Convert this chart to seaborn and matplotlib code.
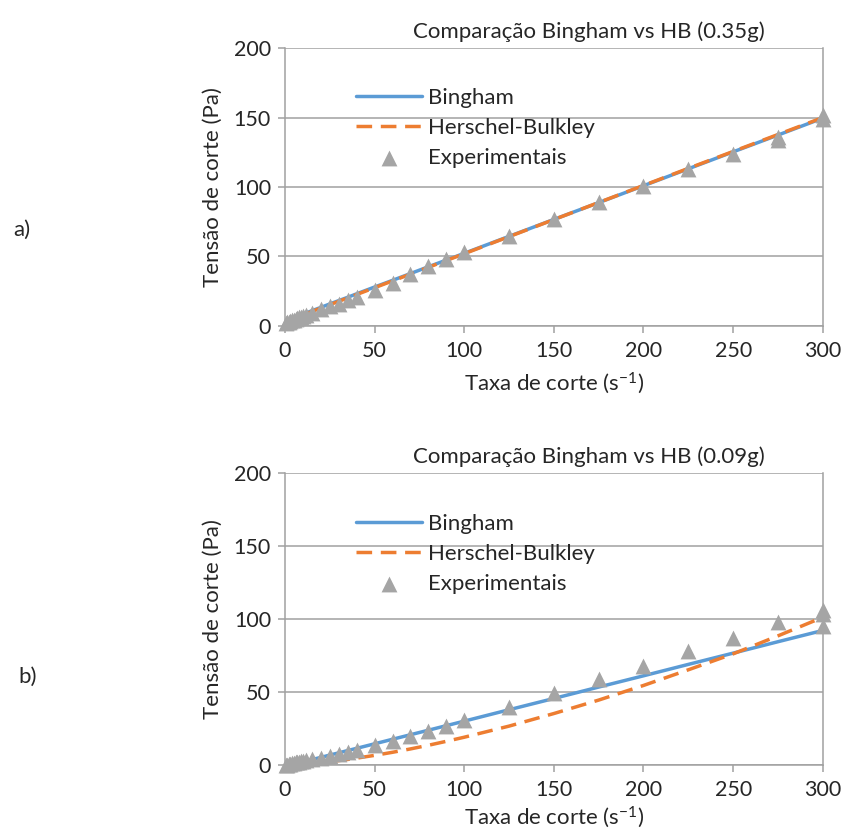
import matplotlib
matplotlib.use("Agg")
import matplotlib.pyplot as plt
import seaborn as sns
import pandas as pd

# shear rate points (s^-1)
shear = [0.5, 1, 2, 3, 4, 5, 6, 7, 8, 9, 10, 12, 15, 20, 25, 30, 35, 40,
         50, 60, 70, 80, 90, 100, 125, 150, 175, 200, 225, 250, 275, 300]

# a) 0.35g
exp_a = [2, 2.5, 3, 3.5, 4, 4.5, 5, 5.5, 6, 6.5, 7, 8, 9.5, 12, 14, 16, 18.5, 21,
         26, 31, 37, 43, 48, 53, 65, 77, 89, 101, 113, 124, 136, 149]
bing_a = [3.7, 4.0, 4.5, 5.0, 5.4, 5.9, 6.4, 6.9, 7.4, 7.9, 8.4, 9.3, 10.8, 13.2, 15.7,
          18.1, 20.5, 23.0, 27.9, 32.7, 37.6, 42.5, 47.3, 52.2, 64.4, 76.6, 88.7,
          100.9, 113.1, 125.3, 137.4, 149.6]
hb_a = [2.8, 3.2, 3.8, 4.3, 4.8, 5.3, 5.8, 6.3, 6.8, 7.3, 7.8, 8.8, 10.2, 12.7, 15.1,
        17.6, 20.0, 22.5, 27.4, 32.3, 37.2, 42.1, 47.0, 51.9, 64.2, 76.5, 88.8,
        101.1, 113.4, 125.6, 137.8, 150.0]
extra_x_a = [275, 300]
extra_a = [134, 152]

# b) 0.09g
exp_b = [0, 0.3, 0.6, 0.9, 1.2, 1.5, 1.8, 2.1, 2.4, 2.7, 3, 3.5, 4, 5, 6, 7.5, 9, 10.5,
         13.5, 16.5, 20, 23.5, 27, 30.5, 40, 49, 58.5, 68, 78, 87, 98, 106]
bing_b = [-0.8, -0.7, -0.4, -0.1, 0.2, 0.6, 0.9, 1.2, 1.5, 1.8, 2.1, 2.7, 3.7, 5.2, 6.8,
          8.3, 9.9, 11.4, 14.5, 17.6, 20.7, 23.8, 26.9, 30.0, 37.8, 45.5, 53.3,
          61.0, 68.8, 76.5, 84.3, 92.0]
hb_b = [0, 0, 0.1, 0.1, 0.2, 0.2, 0.3, 0.4, 0.4, 0.5, 0.6, 0.8, 1.1, 1.6, 2.3,
        3.0, 3.8, 4.7, 6.6, 8.7, 11.0, 13.5, 16.2, 19.0, 26.6, 35.2, 44.4,
        54.4, 65.1, 76.0, 88.3, 101.0]
extra_x_b = [300, 300]
extra_b = [103, 95]

titles = ["Comparação Bingham vs HB (0.35g)", "Comparação Bingham vs HB (0.09g)"]
panel_labels = ["a)", "b)"]
x_ticks = [0, 50, 100, 150, 200, 250, 300]
y_ticks = [0, 50, 100, 150, 200]

BLUE = "#5B9BD5"
ORANGE = "#ED7D31"
GREY = "#A5A5A5"
AXC = "#A0A0A0"

sns.set_style("white")
plt.rcParams["font.family"] = ["Lato", "DejaVu Sans"]
plt.rcParams["mathtext.default"] = "regular"

fig = plt.figure(figsize=(8.43, 8.31), dpi=100)
positions = [[0.338, 0.608, 0.638, 0.334], [0.338, 0.0794, 0.638, 0.352]]
label_pos = [(0.016, 0.723), (0.022, 0.185)]
xlabel_pad = [7, 3]

panels = [(exp_a, bing_a, hb_a, extra_x_a, extra_a),
          (exp_b, bing_b, hb_b, extra_x_b, extra_b)]

for i, (exp, bing, hb, ex_x, ex_y) in enumerate(panels):
    ax = fig.add_axes(positions[i])
    df = pd.DataFrame({"x": shear, "exp": exp, "bing": bing, "hb": hb})
    sns.lineplot(data=df, x="x", y="bing", ax=ax, color=BLUE, lw=2.5,
                 estimator=None, sort=False, label="Bingham", zorder=2)
    sns.lineplot(data=df, x="x", y="hb", ax=ax, color=ORANGE, lw=2.5,
                 estimator=None, sort=False, label="Herschel-Bulkley", zorder=3)
    ax.lines[-1].set_dashes((4.5, 2.5))
    ex_df = pd.DataFrame({"x": shear + ex_x, "y": exp + ex_y})
    sns.scatterplot(data=ex_df, x="x", y="y", ax=ax, marker="^", s=130,
                    color=GREY, edgecolor=GREY, linewidth=0, label="Experimentais",
                    zorder=4, clip_on=False)

    ax.set_xlim(0, 300)
    ax.set_ylim(0, 200)
    ax.set_xticks(x_ticks)
    ax.set_yticks(y_ticks)
    ax.grid(axis="y", color=AXC, lw=1.1)
    ax.set_axisbelow(True)
    for side in ["left", "bottom", "right"]:
        ax.spines[side].set_color(AXC)
        ax.spines[side].set_linewidth(1.1)
    ax.spines["top"].set_visible(False)
    ax.tick_params(axis="both", labelsize=15.5, length=5, color=AXC, width=1.1,
                   bottom=True, left=True)
    ax.tick_params(axis="x", pad=6)
    ax.tick_params(axis="y", pad=5)
    ax.set_xlabel("Taxa de corte (s$^{-1}$)", fontsize=16, labelpad=xlabel_pad[i])
    ax.set_ylabel("Tensão de corte (Pa)", fontsize=16, labelpad=8)
    ax.set_title(titles[i], fontsize=16, pad=7, x=0.565)

    ax.legend(loc="upper left", bbox_to_anchor=(0.115, 0.89), frameon=False,
              fontsize=16, handlelength=3.0, handletextpad=0.25,
              labelspacing=0.45, borderaxespad=0)

    fig.text(label_pos[i][0], label_pos[i][1], panel_labels[i], fontsize=16,
             va="center")

fig.savefig("out.png", dpi=100)
